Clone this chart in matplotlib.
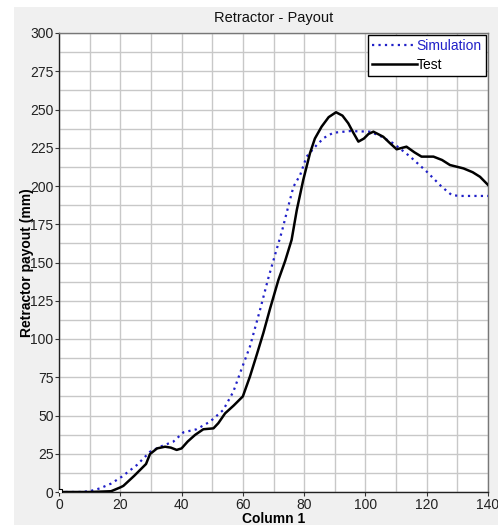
import matplotlib
matplotlib.use("Agg")
import matplotlib.pyplot as plt
from matplotlib.patches import Rectangle
from matplotlib.lines import Line2D
import numpy as np

plt.rcParams['font.family'] = ['Liberation Sans', 'DejaVu Sans']

title = "Retractor - Payout"
xlabel = "Column 1"
ylabel = "Retractor payout (mm)"

test_x = [0, 10, 17, 20, 21, 24.5, 28.4, 29.7, 32, 34.6, 36.5, 38.4, 40, 42, 44.4, 47.1, 50.4, 52,
          54.2, 57, 60, 62.3, 64.5, 66.7, 68.9, 71.6, 73.8, 75.9, 77.6, 79.7, 81.9, 83.5, 85.7, 88,
          90.4, 92.5, 94.4, 96, 97.7, 99.5, 101, 102.6, 105.8, 108, 110.2, 113.4, 116, 118.3, 122.2,
          125, 127.6, 132, 135, 137.4, 140]
test_y = [0, 0, 0.5, 3, 4, 10.5, 18.3, 24.8, 28.5, 29.6, 29, 27.5, 28.5, 33, 37.3, 41, 41.6, 45,
          51.4, 56.5, 62.5, 75.4, 89.5, 104, 120, 138.6, 151, 164.7, 184.3, 203.9, 221.4, 231, 238.8,
          245, 248.2, 246, 241, 235, 229, 231, 234, 235.5, 232.2, 228, 224, 225.7, 222, 219.2, 219.2,
          217, 213.7, 211.5, 209, 206, 200.7]

sim_x = [0, 6.5, 10, 13.4, 17, 20.5, 25.4, 29.7, 33, 37.3, 40.6, 44.9, 49.3, 53.6, 56.9, 59.5, 62.3,
         65.6, 68.3, 70.5, 72.7, 74.8, 76.5, 78.7, 80.8, 84.1, 86.5, 89.5, 95, 101.5, 105, 109.1,
         114.6, 120, 124.9, 128.2, 131, 135, 140]
sim_y = [0, 0, 0.5, 2.4, 5.5, 10, 17.6, 26.3, 29.6, 32.9, 39, 41, 46, 53.6, 65.6, 80, 95,
         119, 139.7, 155, 170, 186.5, 199.5, 207.2, 219.2, 226.8, 231.5, 234.8, 235.9, 235.5, 232.5,
         227.9, 219.2, 209.4, 199.5, 194, 193.5, 193.5, 193.5]

W, H = 498, 525
fig = plt.figure(figsize=(W / 100, H / 100), dpi=100, facecolor='white')
fig.patches.append(Rectangle((14 / W, 0), 1, 1 - 7 / H, transform=fig.transFigure,
                             facecolor='#f0f0f0', edgecolor='none', zorder=-10))

ax = fig.add_axes([59 / W, 1 - 492 / H, (488 - 59) / W, (492 - 33) / H])
ax.set_facecolor('white')

blue = '#2020c8'
sim_style = dict(color=blue, linestyle=(0, (1, 1.9)), linewidth=1.6)
test_style = dict(color='black', linewidth=1.8)

ax.plot(sim_x, sim_y, zorder=3, **sim_style)
ax.plot(test_x, test_y, zorder=4, marker='s', markevery=[0], markersize=4,
        markerfacecolor='white', markeredgecolor='black', markeredgewidth=0.8, **test_style)

ax.set_xlim(0, 140)
ax.set_ylim(0, 300)
ax.set_xticks(np.arange(0, 141, 20))
ax.set_xticks(np.arange(0, 141, 10), minor=True)
ax.set_yticks(np.arange(0, 301, 25))
ax.set_yticks(np.arange(0, 301, 12.5), minor=True)
ax.grid(True, which='both', color='#c8c8c8', linewidth=1.0, zorder=0)
ax.set_axisbelow(True)

ax.tick_params(axis='both', which='major', labelsize=10, length=3, width=0.8,
               direction='out', pad=1, colors='#333333', labelcolor='#222222')
ax.tick_params(axis='both', which='minor', length=0)
for s in ['left', 'bottom']:
    ax.spines[s].set_color('#222222')
    ax.spines[s].set_linewidth(1.0)
for s in ['top', 'right']:
    ax.spines[s].set_color('#777777')
    ax.spines[s].set_linewidth(1.0)

ax.set_title(title, fontsize=10.5, pad=8, color='#111111')
ax.set_xlabel(xlabel, fontsize=10, fontweight='bold', labelpad=0)
ax.set_ylabel(ylabel, fontsize=10, fontweight='bold', labelpad=-3)

handles = [Line2D([], [], **sim_style), Line2D([], [], **test_style)]
leg = ax.legend(handles, ['Simulation', 'Test'], loc='upper right', fontsize=10, frameon=True,
                fancybox=False, edgecolor='black', framealpha=1, borderpad=0.3,
                handlelength=3.2, handletextpad=0.0, labelspacing=0.35, borderaxespad=0.15)
leg.get_frame().set_linewidth(1.0)
leg.get_texts()[0].set_color(blue)

fig.savefig('out.png', dpi=100, facecolor=fig.get_facecolor())
